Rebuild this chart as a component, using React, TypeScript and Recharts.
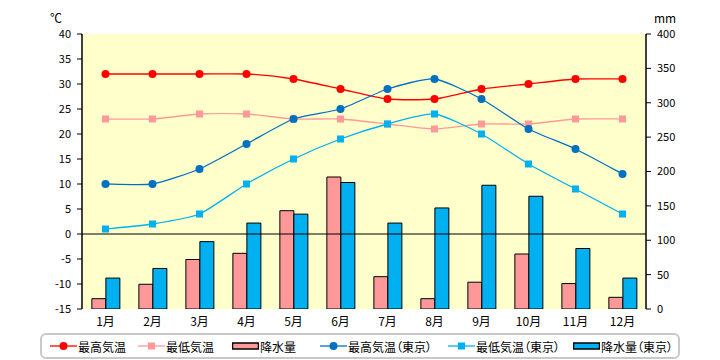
import React from 'react';
import { ComposedChart, Bar, Line, XAxis, YAxis, CartesianGrid, ReferenceLine } from 'recharts';

const months = ['1月', '2月', '3月', '4月', '5月', '6月', '7月', '8月', '9月', '10月', '11月', '12月'];
const maxTemp = [32, 32, 32, 32, 31, 29, 27, 27, 29, 30, 31, 31];
const minTemp = [23, 23, 24, 24, 23, 23, 22, 21, 22, 22, 23, 23];
const rain = [15, 36, 72, 81, 143, 192, 47, 15, 39, 80, 37, 17];
const maxTempTokyo = [10, 10, 13, 18, 23, 25, 29, 31, 27, 21, 17, 12];
const minTempTokyo = [1, 2, 4, 10, 15, 19, 22, 24, 20, 14, 9, 4];
const rainTokyo = [45, 59, 98, 125, 138, 184, 125, 147, 180, 164, 88, 45];
const tempTicks = [-15, -10, -5, 0, 5, 10, 15, 20, 25, 30, 35, 40];
const rainTicks = [0, 50, 100, 150, 200, 250, 300, 350, 400];

const data = months.map((m, i) => ({
  month: m,
  maxTemp: maxTemp[i],
  minTemp: minTemp[i],
  rain: rain[i],
  maxTempTokyo: maxTempTokyo[i],
  minTempTokyo: minTempTokyo[i],
  rainTokyo: rainTokyo[i],
}));

const FONT = '"Noto Sans CJK JP", "DejaVu Sans", sans-serif';

// gentle Catmull-Rom style smoothing (similar to Excel smoothed lines)
function smoothCurve(context: any) {
  let pts: number[][] = [];
  return {
    areaStart() {},
    areaEnd() {},
    lineStart() { pts = []; },
    point(x: number, y: number) { pts.push([+x, +y]); },
    lineEnd() {
      if (!pts.length) return;
      context.moveTo(pts[0][0], pts[0][1]);
      for (let i = 0; i < pts.length - 1; i++) {
        const p0 = pts[i - 1] || pts[i];
        const p1 = pts[i];
        const p2 = pts[i + 1];
        const p3 = pts[i + 2] || p2;
        const k = 1 / 10;
        context.bezierCurveTo(
          p1[0] + (p2[0] - p0[0]) * k, p1[1] + (p2[1] - p0[1]) * k,
          p2[0] - (p3[0] - p1[0]) * k, p2[1] - (p3[1] - p1[1]) * k,
          p2[0], p2[1]
        );
      }
    },
  };
}

const circleDot = (color: string) => (props: any) => {
  const { cx, cy, index } = props;
  if (cx == null || cy == null) return <g key={index} />;
  return <circle key={index} cx={cx} cy={cy} r={4} fill={color} stroke="none" />;
};
const squareDot = (color: string) => (props: any) => {
  const { cx, cy, index } = props;
  if (cx == null || cy == null) return <g key={index} />;
  return <rect key={index} x={cx - 3.5} y={cy - 3.5} width={7} height={7} fill={color} stroke="none" />;
};

const legendItems = [
  { name: '最高気温', color: '#FF0000', kind: 'circle', left: 8 },
  { name: '最低気温', color: '#FF9999', kind: 'square', left: 96 },
  { name: '降水量', color: '#FF9999', kind: 'bar', left: 190 },
  { name: '最高気温（東京）', color: '#0070C0', kind: 'circle', left: 278 },
  { name: '最低気温（東京）', color: '#00B0F0', kind: 'square', left: 406 },
  { name: '降水量（東京）', color: '#00B0F0', kind: 'bar', left: 531 },
];

function LegendBox() {
  return (
    <div style={{
      position: 'absolute', left: 32, top: 325, width: 636, height: 22,
      border: '2px solid #C8C8C8', borderRadius: 6, background: '#fff',
    }}>
      {legendItems.map((it) => (
        <div key={it.name} style={{ position: 'absolute', left: it.left, top: 0, height: 22, display: 'flex', alignItems: 'center' }}>
          <svg width={27} height={12} style={{ display: 'block' }}>
            {it.kind === 'bar' ? (
              <rect x={0.5} y={3} width={26} height={6} fill={it.color} stroke="#000" strokeWidth={1.5} />
            ) : (
              <>
                <line x1={0} y1={6} x2={27} y2={6} stroke={it.color} strokeWidth={1.3} />
                {it.kind === 'circle' ? (
                  <circle cx={13.5} cy={6} r={4} fill={it.color} />
                ) : (
                  <rect x={10} y={2.5} width={7} height={7} fill={it.color} />
                )}
              </>
            )}
          </svg>
          <span style={{ fontFamily: FONT, fontSize: 12, color: '#000', marginLeft: 1, whiteSpace: 'nowrap', fontFeatureSettings: '"palt"' }}>{it.name}</span>
        </div>
      ))}
    </div>
  );
}

export default function App() {
  return (
    <div style={{ position: 'relative', width: 712, height: 352, fontFamily: FONT }}>
      <div style={{ position: 'absolute', left: 42, top: 1, fontSize: 12, fontFamily: FONT }}>℃</div>
      <div style={{ position: 'absolute', left: 646, top: 1, fontSize: 12, fontFamily: FONT }}>mm</div>
      <ComposedChart
        width={712}
        height={344}
        data={data}
        margin={{ top: 26, right: 34, bottom: 23, left: 34 }}
        barGap={0}
        barCategoryGap="21%"
      >
        <CartesianGrid fill="#FFFFCC" stroke="none" horizontal={false} vertical={false} yAxisId="t" />
        <XAxis
          dataKey="month"
          axisLine={false}
          tickLine={false}
          height={20}
          tick={{ fontSize: 12, fill: '#000', fontFamily: FONT }}
          interval={0}
        />
        <YAxis
          yAxisId="t"
          orientation="left"
          domain={[-15, 40]}
          ticks={tempTicks}
          width={40}
          axisLine={{ stroke: '#000', strokeWidth: 1.5 }}
          tickLine={{ stroke: '#000', strokeWidth: 1 }}
          tickSize={5}
          tickMargin={6}
          tick={{ fontSize: 11, fill: '#000', fontFamily: FONT }}
          interval={0}
          allowDataOverflow
        />
        <YAxis
          yAxisId="r"
          orientation="right"
          domain={[0, 400]}
          ticks={rainTicks}
          width={40}
          axisLine={{ stroke: '#000', strokeWidth: 1.5 }}
          tickLine={{ stroke: '#000', strokeWidth: 1 }}
          tickSize={5}
          tickMargin={6}
          tick={{ fontSize: 11, fill: '#000', fontFamily: FONT }}
          interval={0}
          allowDataOverflow
        />
        <Bar yAxisId="r" dataKey="rain" name="降水量" fill="#FF9999" stroke="#000" strokeWidth={1} isAnimationActive={false} />
        <Bar yAxisId="r" dataKey="rainTokyo" name="降水量（東京）" fill="#00B0F0" stroke="#000" strokeWidth={1} isAnimationActive={false} />
        <ReferenceLine yAxisId="t" y={0} stroke="#000" strokeWidth={1.2} />
        <Line yAxisId="t" dataKey="maxTemp" name="最高気温" type={smoothCurve as any} stroke="#FF0000" strokeWidth={1.3} dot={circleDot('#FF0000')} activeDot={false} isAnimationActive={false} />
        <Line yAxisId="t" dataKey="minTemp" name="最低気温" type={smoothCurve as any} stroke="#FF9999" strokeWidth={1.3} dot={squareDot('#FF9999')} activeDot={false} isAnimationActive={false} />
        <Line yAxisId="t" dataKey="maxTempTokyo" name="最高気温（東京）" type={smoothCurve as any} stroke="#0070C0" strokeWidth={1.3} dot={circleDot('#0070C0')} activeDot={false} isAnimationActive={false} />
        <Line yAxisId="t" dataKey="minTempTokyo" name="最低気温（東京）" type={smoothCurve as any} stroke="#00B0F0" strokeWidth={1.3} dot={squareDot('#00B0F0')} activeDot={false} isAnimationActive={false} />
      </ComposedChart>
      <LegendBox />
    </div>
  );
}
